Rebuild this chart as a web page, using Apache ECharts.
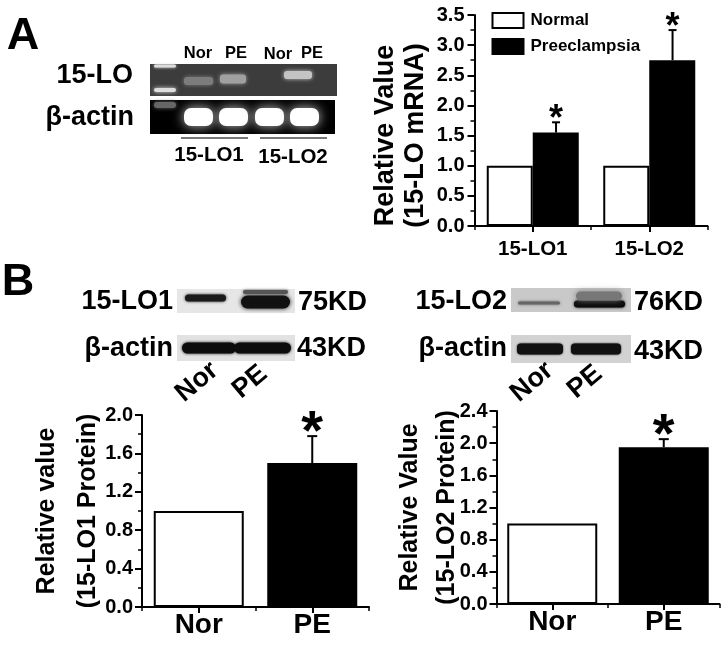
<!DOCTYPE html>
<html><head><meta charset="utf-8">
<style>html,body{margin:0;padding:0;background:#fff}#c{width:725px;height:661px}</style>
<script src="https://cdn.jsdelivr.net/npm/echarts@6/dist/echarts.min.js"></script>
</head><body><div id="c"></div>
<script>
// Data
const mrnaCategories = ['15-LO1', '15-LO2'];
const normalMrna = [1.0, 1.0];
const preeclampsiaMrna = [1.55, 2.75];
const preeclampsiaMrnaErr = [0.17, 0.5];
const proteinCategories = ['Nor', 'PE'];
const lo1Protein = [1.0, 1.5];
const lo1ProteinErr = [0, 0.28];
const lo2Protein = [1.0, 1.95];
const lo2ProteinErr = [0, 0.1];

const FONT = '"Liberation Sans", Arial, sans-serif';
const chart = echarts.init(document.getElementById('c'), null, {renderer: 'canvas'});

function yAxis(gridIndex, max, interval, fs, margin, name, nameGap, lh, pad, nfs) {
  return {
    type: 'value', gridIndex, min: 0, max, interval,
    name, nameLocation: 'middle', nameGap, nameRotate: 90, nameMoveOverlap: false,
    nameTextStyle: {fontFamily: FONT, fontWeight: 'bold', fontSize: nfs, color: '#000', lineHeight: lh, padding: pad, align: 'center'},
    axisLine: {show: true, lineStyle: {color: '#000', width: 2}},
    axisTick: {show: true, length: 7, lineStyle: {color: '#000', width: 2}},
    minorTick: {show: true, splitNumber: 2, length: 4, lineStyle: {color: '#000', width: 1.5}},
    splitLine: {show: false}, minorSplitLine: {show: false},
    axisLabel: {fontFamily: FONT, fontWeight: 'bold', fontSize: fs, color: '#000', margin, formatter: v => v.toFixed(1)}
  };
}
function xAxes(gridIndex, data, fs, margin) {
  return [{
    type: 'category', gridIndex, data, position: 'bottom',
    axisLine: {show: true, onZero: false, lineStyle: {color: '#000', width: 2}},
    axisTick: {show: true, alignWithLabel: true, length: 6, lineStyle: {color: '#000', width: 2}},
    axisLabel: {fontFamily: FONT, fontWeight: 'bold', fontSize: fs, color: '#000', margin},
    splitLine: {show: false}
  }, {
    type: 'category', gridIndex, data, position: 'bottom',
    axisLine: {show: false, onZero: false},
    axisTick: {show: true, alignWithLabel: false, length: 4, lineStyle: {color: '#000', width: 1.5}},
    axisLabel: {show: false}, splitLine: {show: false}
  }];
}
function errSeries(xAxisIndex, yAxisIndex, vals, errs, shiftRatio, cap, starSize, starGap) {
  return {
    type: 'custom', xAxisIndex, yAxisIndex, z: 5, silent: true,
    data: vals.map((v, i) => [i, v, errs[i]]).filter(d => d[2] > 0),
    renderItem(params, api) {
      const base = api.coord([api.value(0), api.value(1)]);
      const top = api.coord([api.value(0), api.value(1) + api.value(2)]);
      const dx = shiftRatio * api.size([1, 0])[0];
      const x = base[0] + dx;
      const st = {stroke: '#000', lineWidth: 2, fill: null};
      return {type: 'group', children: [
        {type: 'line', shape: {x1: x, y1: base[1], x2: x, y2: top[1]}, style: st},
        {type: 'line', shape: {x1: x - cap, y1: top[1], x2: x + cap, y2: top[1]}, style: st},
        {type: 'text', x, y: top[1] - starGap, style: {text: '*', font: 'bold ' + starSize + 'px ' + FONT, fill: '#000', align: 'center', verticalAlign: 'middle'}}
      ]};
    }
  };
}
const blk = {color: '#000', borderColor: '#000', borderWidth: 2};
const wht = {color: '#fff', borderColor: '#000', borderWidth: 2};

// Pictured gels and blots are redrawn as soft shapes
function box(x1, y1, x2, y2, fill) {
  return {type: 'rect', z: 1, shape: {x: x1, y: y1, width: x2 - x1, height: y2 - y1}, style: {fill}};
}
function band(x1, x2, cy, h, fill, blur, r, glow) {
  return {type: 'rect', z: 2, shape: {x: x1, y: cy - h / 2, width: x2 - x1, height: h, r: r == null ? h / 2 : r},
    style: {fill, shadowBlur: blur, shadowColor: glow || fill}};
}
function label(text, x, y, size, align, rot) {
  return {type: 'text', z: 3, x, y, rotation: (rot || 0) * Math.PI / 180,
    style: {text, font: 'bold ' + size + 'px ' + FONT, fill: '#000', align: align || 'center', verticalAlign: 'middle'}};
}
const art = [
  // gel A
  box(150, 64, 337, 96, '#3c3c3c'), box(150, 100, 335, 134, '#000'),
  band(154, 176, 66, 3, '#ddd', 3), band(154, 176, 90, 4, '#ddd', 4),
  band(184, 213, 81, 8, '#7c7c7c', 4, 3), band(220, 246, 79, 9, '#a0a0a0', 4, 3), band(284, 312, 75, 8, '#c4c4c4', 4, 3),
  band(154, 176, 105, 6, '#666', 4),
  band(184, 213, 117, 18, '#fff', 12, 7, '#ccc'), band(219, 248, 117, 18, '#fff', 12, 7, '#ccc'),
  band(255, 284, 117, 18, '#fff', 12, 7, '#ccc'), band(290, 319, 117, 18, '#fff', 12, 7, '#ccc'),
  box(181, 137, 248, 139, '#777'), box(260, 137, 327, 139, '#777'),
  // blots B left
  box(177, 289, 295, 313, '#e6e6e6'), box(177, 335, 295, 361, '#e2e2e2'),
  band(185, 226, 298, 7, '#1a1a1a', 3), band(241, 290, 302, 13, '#111', 4), band(243, 288, 292, 4, '#555', 3),
  band(182, 236, 348, 11, '#0c0c0c', 3), band(234, 291, 348, 11, '#0c0c0c', 3),
  // blots B right
  box(511, 288, 631, 312, '#c9c9c9'), box(511, 335, 631, 363, '#d2d2d2'),
  band(518, 560, 303, 3, '#666', 3), band(574, 625, 304, 7, '#0a0a0a', 3), band(576, 622, 296, 9, '#777', 6),
  band(517, 563, 349, 11, '#111', 2, 4), band(571, 621, 349, 11, '#111', 2, 4),
  // panel text
  label('A', 23, 37, 45), label('B', 18, 283, 45),
  label('Nor', 198, 53, 16.5), label('PE', 236, 53, 16.5), label('Nor', 278, 54, 16.5), label('PE', 312, 53, 16.5),
  label('15-LO', 133, 76, 27, 'right'), label('β-actin', 134, 118, 27, 'right'),
  label('15-LO1', 209, 155, 20.5), label('15-LO2', 293, 157, 20.5),
  label('15-LO1', 173, 302, 27, 'right'), label('75KD', 298, 303, 27, 'left'),
  label('β-actin', 173, 349, 27, 'right'), label('43KD', 297, 349, 27, 'left'),
  label('15-LO2', 507, 302, 27, 'right'), label('76KD', 634, 303, 27, 'left'),
  label('β-actin', 507, 349, 27, 'right'), label('43KD', 634, 352, 27, 'left'),
  label('Nor', 197, 382, 27, 'center', 40), label('PE', 250, 382, 27, 'center', 40),
  label('Nor', 532, 382, 27, 'center', 40), label('PE', 585, 382, 27, 'center', 40)
];

chart.setOption({
  backgroundColor: '#fff',
  animation: false,
  legend: {
    show: true, orient: 'vertical', left: 491.5, top: 12, itemWidth: 31, itemHeight: 15, itemGap: 9, icon: 'rect',
    selectedMode: false, padding: 0, data: ['Normal', 'Preeclampsia'],
    textStyle: {fontFamily: FONT, fontWeight: 'bold', fontSize: 17, color: '#000', padding: [0, 0, 0, 2]}
  },
  grid: [
    {left: 474.5, top: 15, width: 233, height: 211},
    {left: 142, top: 415, width: 227, height: 192},
    {left: 496.5, top: 411, width: 223, height: 193}
  ],
  xAxis: [...xAxes(0, mrnaCategories, 20.5, 13), ...xAxes(1, proteinCategories, 28, 4), ...xAxes(2, proteinCategories, 28, 4)],
  yAxis: [
    yAxis(0, 3.5, 0.5, 20, 10, 'Relative Value\n(15-LO mRNA)', 44, 30, [0, 30, 0, 0], 27),
    yAxis(1, 2, 0.4, 20, 9, 'Relative value\n(15-LO1 Protein)', 33, 41, 0, 25),
    yAxis(2, 2.4, 0.4, 20, 9, 'Relative Value\n(15-LO2 Protein)', 31, 37, 0, 25)
  ],
  series: [
    {name: 'Normal', type: 'bar', xAxisIndex: 0, yAxisIndex: 0, data: normalMrna, barWidth: 46, barGap: 0, itemStyle: wht},
    {name: 'Preeclampsia', type: 'bar', xAxisIndex: 0, yAxisIndex: 0, data: preeclampsiaMrna, barWidth: 46, barGap: 0, itemStyle: blk},
    errSeries(0, 0, preeclampsiaMrna, preeclampsiaMrnaErr, 0.2, 4, 36, 2),
    {type: 'bar', xAxisIndex: 2, yAxisIndex: 1, barWidth: 90,
      data: lo1Protein.map((v, i) => ({value: v, itemStyle: i ? blk : wht}))},
    errSeries(2, 1, lo1Protein, lo1ProteinErr, 0, 5, 56, 3),
    {type: 'bar', xAxisIndex: 4, yAxisIndex: 2, barWidth: 90,
      data: lo2Protein.map((v, i) => ({value: v, itemStyle: i ? blk : wht}))},
    errSeries(4, 2, lo2Protein, lo2ProteinErr, 0, 5, 56, 3)
  ],
  graphic: {elements: art}
});
</script></body></html>
